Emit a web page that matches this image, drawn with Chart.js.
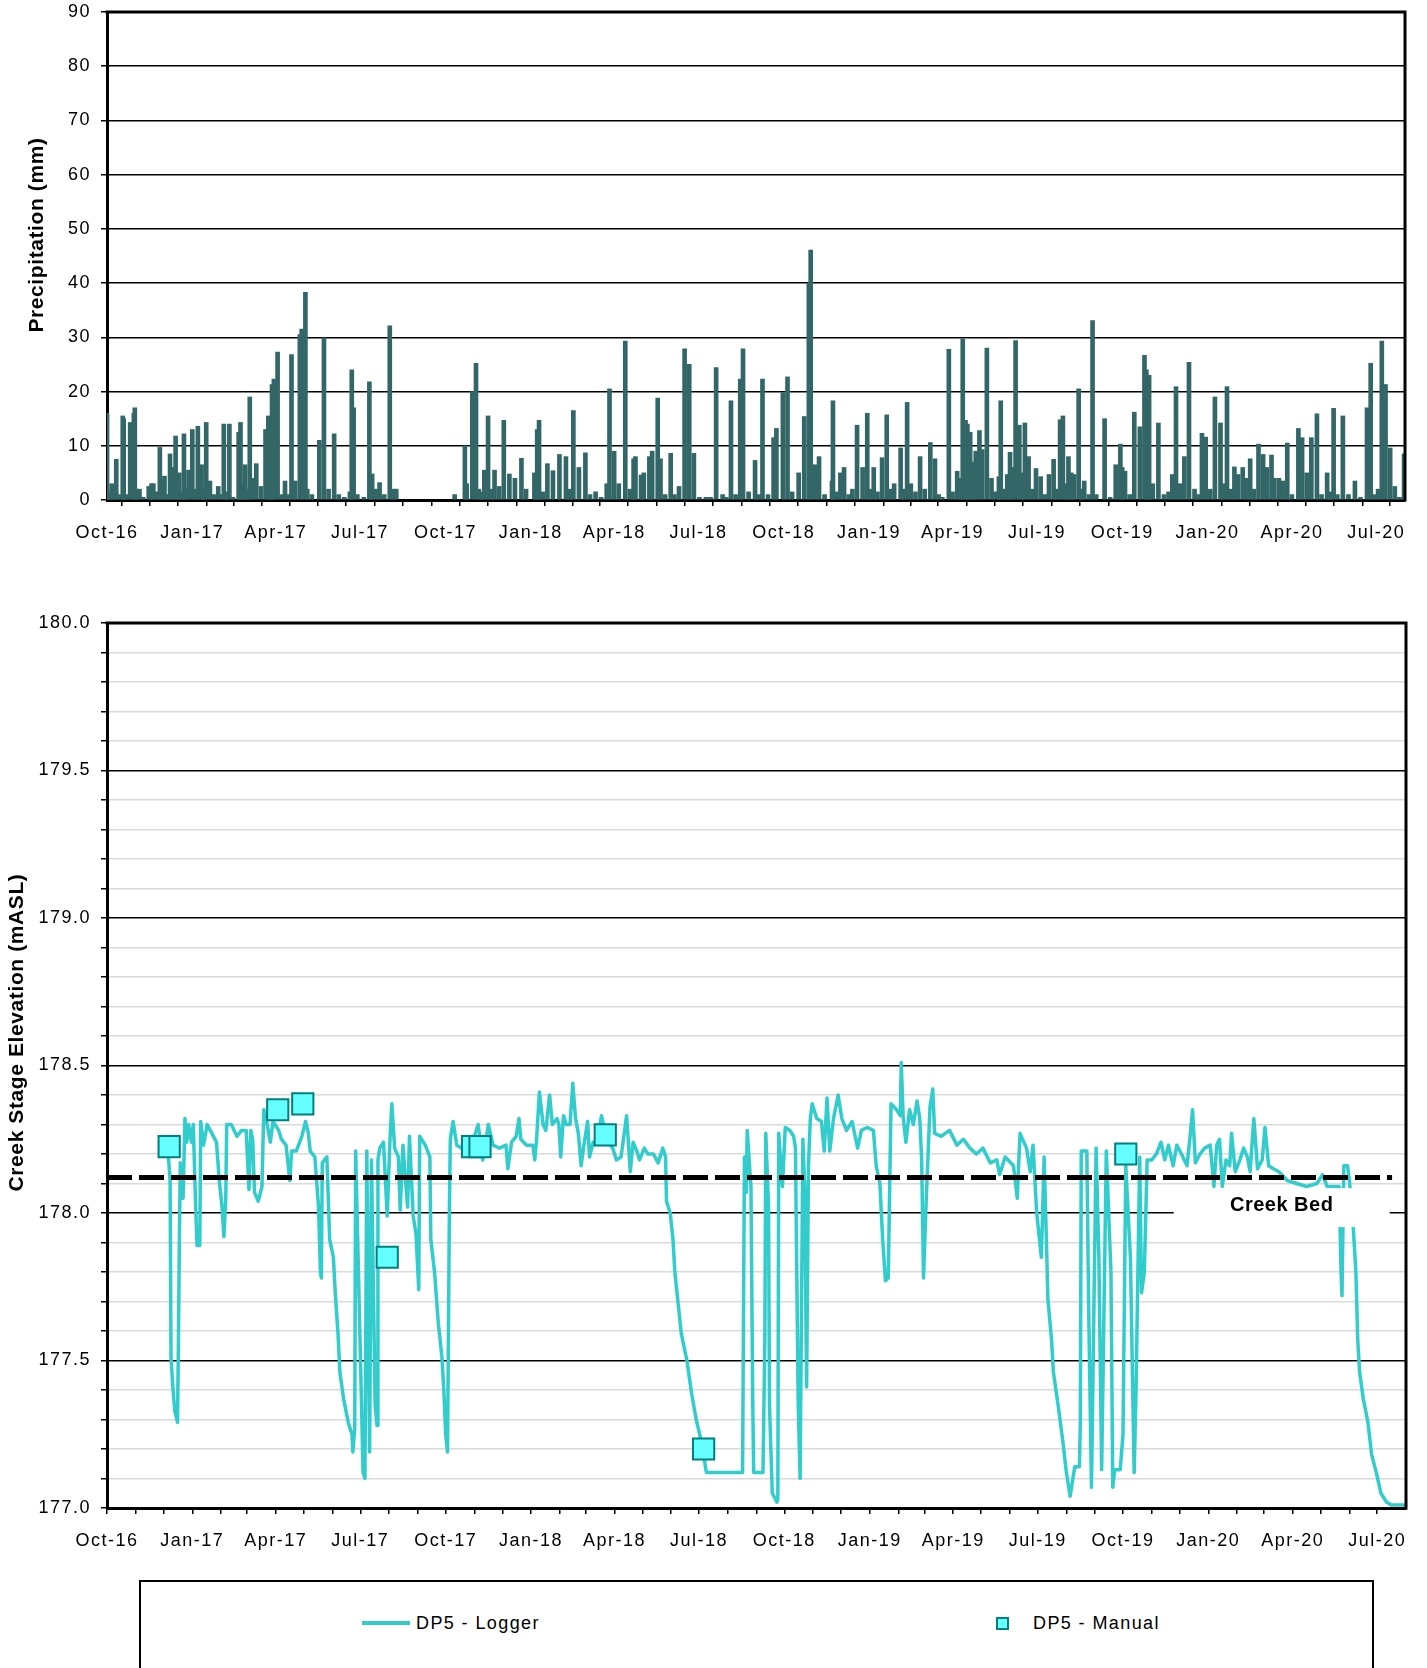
<!DOCTYPE html>
<html>
<head>
<meta charset="utf-8">
<script src="https://cdn.jsdelivr.net/npm/chart.js@4.4.1/dist/chart.umd.min.js"></script>
<style>
  html, body { margin:0; padding:0; background:#fff; }
  body { width:1427px; height:1668px; position:relative; overflow:hidden; font-family:'Liberation Sans', Arial, sans-serif; }
  #c1 { position:absolute; left:0; top:0; }
  #c2 { position:absolute; left:0; top:560px; }
  #legend { position:absolute; left:139px; top:1580px; width:1235px; height:120px; border:2px solid #000; box-sizing:border-box; background:#fff; }
  #legend .line { position:absolute; left:221px; top:39px; width:48px; height:4px; background:#33CCCC; }
  #legend .sq { position:absolute; left:855px; top:35px; width:9px; height:9px; background:#66FFFF; border:2px solid #008080; }
  #legend .txt { position:absolute; top:30px; font-size:18px; line-height:22px; letter-spacing:1.4px; color:#000; white-space:nowrap; }
</style>
</head>
<body>
<canvas id="c1" width="1427" height="560"></canvas>
<canvas id="c2" width="1427" height="1020"></canvas>
<div id="legend">
  <div class="line"></div><div class="txt" style="left:275px">DP5 - Logger</div>
  <div class="sq"></div><div class="txt" style="left:892px">DP5 - Manual</div>
</div>
<script>
// ---------------- DATA ----------------
const xMajorTickDates = ['2016-10-01','2017-01-01','2017-04-01','2017-07-01','2017-10-01','2018-01-01','2018-04-01','2018-07-01',
  '2018-10-01','2019-01-01','2019-04-01','2019-07-01','2019-10-01','2020-01-01','2020-04-01','2020-07-01'];
const xMajorTickLabels = ['Oct-16','Jan-17','Apr-17','Jul-17','Oct-17','Jan-18','Apr-18','Jul-18',
  'Oct-18','Jan-19','Apr-19','Jul-19','Oct-19','Jan-20','Apr-20','Jul-20'];
const xRange = ['2016-10-01', '2020-08-01'];

// Daily precipitation (mm) – days with rain
const precipEvents = [
['2016-10-01',16],['2016-10-03',1.5],['2016-10-06',3],['2016-10-08',2.5],['2016-10-11',7.5],['2016-10-14',1],['2016-10-18',15.5],['2016-10-19',15],
['2016-10-22',1],['2016-10-26',14.3],['2016-10-30',16],['2016-10-31',17],['2016-11-02',2],['2016-11-05',2],['2016-11-09',0.5],['2016-11-15',2.5],
['2016-11-18',3],['2016-11-20',3],['2016-11-24',1.5],['2016-11-27',9.7],['2016-11-29',3.5],['2016-12-02',4.4],['2016-12-05',1],['2016-12-08',8.5],
['2016-12-10',6],['2016-12-14',11.8],['2016-12-16',3],['2016-12-18',5],['2016-12-20',1.5],['2016-12-23',12.2],['2016-12-25',2],['2016-12-28',5.5],
['2017-01-01',13],['2017-01-04',2],['2017-01-07',13.6],['2017-01-11',6.5],['2017-01-13',2],['2017-01-16',14.3],['2017-01-20',3.5],['2017-01-24',1],
['2017-01-29',2.5],['2017-02-01',1],['2017-02-04',14],['2017-02-07',1.5],['2017-02-10',14],['2017-02-14',0.5],['2017-02-20',12.5],['2017-02-22',14.3],
['2017-02-24',3],['2017-02-27',6.5],['2017-03-01',2],['2017-03-04',19],['2017-03-07',4],['2017-03-11',6.7],['2017-03-16',2.5],['2017-03-21',13],
['2017-03-24',15.5],['2017-03-26',4],['2017-03-28',21.3],['2017-03-30',22.3],['2017-04-03',27.3],['2017-04-07',1],['2017-04-11',3.5],['2017-04-15',1],
['2017-04-18',26.8],['2017-04-22',3.5],['2017-04-27',30.5],['2017-04-29',31.5],['2017-05-03',38.3],['2017-05-05',2],['2017-05-10',1],['2017-05-18',11],
['2017-05-23',29.9],['2017-05-28',2],['2017-06-03',12.2],['2017-06-08',1],['2017-06-14',0.5],['2017-06-20',1.5],['2017-06-22',24],['2017-06-24',17],
['2017-06-28',1],['2017-07-05',0.5],['2017-07-11',21.8],['2017-07-14',4.8],['2017-07-18',2],['2017-07-22',3.2],['2017-07-27',1],['2017-08-02',32.1],
['2017-08-06',2],['2017-08-09',2],
['2017-10-11',1],['2017-10-22',10],['2017-10-24',3],['2017-10-30',20],['2017-11-03',25.2],['2017-11-06',2],['2017-11-09',1.5],['2017-11-12',5.5],
['2017-11-16',15.5],['2017-11-20',2],['2017-11-23',5.5],['2017-11-28',2.5],['2017-12-03',14.7],['2017-12-09',4.8],['2017-12-15',4],['2017-12-22',7.7],
['2017-12-27',2],['2018-01-05',5],['2018-01-08',13],['2018-01-10',14.7],['2018-01-14',1.5],['2018-01-19',6.7],['2018-01-25',5.4],['2018-02-01',8.4],
['2018-02-08',8],['2018-02-12',2],['2018-02-16',16.5],['2018-02-22',6],['2018-03-01',8.7],['2018-03-06',1],['2018-03-12',1.5],['2018-03-18',0.5],
['2018-03-24',3],['2018-03-27',20.5],['2018-04-01',9],['2018-04-06',3],['2018-04-13',29.3],['2018-04-18',2],['2018-04-22',7.6],['2018-04-24',8],
['2018-04-30',4.6],['2018-05-03',5],['2018-05-09',8],['2018-05-12',9],['2018-05-18',18.8],['2018-05-21',7.6],['2018-05-26',1],['2018-06-01',8.6],
['2018-06-05',1],['2018-06-10',2.5],['2018-06-16',27.9],['2018-06-21',25],['2018-06-26',8.6],['2018-07-02',0.5],['2018-07-09',0.5],['2018-07-14',0.5],
['2018-07-20',24.4],['2018-07-27',1],['2018-07-31',0.5],['2018-08-05',18.3],['2018-08-10',1],['2018-08-15',22.3],['2018-08-18',27.9],['2018-08-24',1.5],
['2018-08-31',7.3],['2018-09-04',1],['2018-09-08',22.3],['2018-09-14',1],['2018-09-20',11.5],['2018-09-23',13.2],['2018-09-30',19.8],['2018-10-05',22.7],
['2018-10-10',1.5],['2018-10-17',5],['2018-10-23',15.4],['2018-10-28',40],['2018-10-30',46.1],['2018-11-04',6.5],['2018-11-08',8],['2018-11-14',1],
['2018-11-22',3.5],['2018-11-23',18.3],['2018-11-27',1.5],['2018-12-01',5],['2018-12-05',6],['2018-12-10',1],['2018-12-14',2],['2018-12-19',13.8],
['2018-12-25',6],['2018-12-30',16],['2019-01-02',2],['2019-01-06',6],['2019-01-10',1.5],['2019-01-15',7.8],['2019-01-20',15.7],['2019-01-24',2],
['2019-01-28',3],['2019-02-04',9.6],['2019-02-07',2],['2019-02-11',18],['2019-02-15',3],['2019-02-20',1.5],['2019-02-25',8],['2019-03-02',2],
['2019-03-08',10.6],['2019-03-13',7.6],['2019-03-17',1],['2019-03-21',0.5],['2019-03-28',27.8],['2019-04-01',1.5],['2019-04-06',5.3],['2019-04-09',4],
['2019-04-12',29.7],['2019-04-15',14.7],['2019-04-17',14],['2019-04-20',12.5],['2019-04-23',7],['2019-04-26',9],['2019-04-30',12.8],['2019-05-03',9.3],
['2019-05-08',28],['2019-05-13',4],['2019-05-17',1.5],['2019-05-21',4.3],['2019-05-23',18.3],['2019-05-27',2],['2019-05-30',4.7],['2019-06-02',8.8],
['2019-06-05',6],['2019-06-08',29.4],['2019-06-12',13.8],['2019-06-15',5],['2019-06-18',14.2],['2019-06-22',8],['2019-06-26',2],['2019-06-30',5.8],
['2019-07-05',4.3],['2019-07-10',1],['2019-07-14',4.7],['2019-07-19',7.5],['2019-07-22',2],['2019-07-26',14.8],['2019-07-29',15.5],['2019-08-01',3],
['2019-08-04',8],['2019-08-07',5],['2019-08-10',4.7],['2019-08-15',20.5],['2019-08-18',2],['2019-08-21',3.5],['2019-08-26',1],['2019-08-30',33.1],
['2019-09-03',1],['2019-09-12',15],['2019-09-18',0.5],['2019-09-24',6.5],['2019-09-29',10.3],['2019-10-01',6],['2019-10-04',5.3],['2019-10-09',1],
['2019-10-14',16.2],['2019-10-20',13.5],['2019-10-25',26.7],['2019-10-27',24],['2019-10-30',23],['2019-11-03',3],['2019-11-09',14.2],['2019-11-15',1],
['2019-11-20',1.5],['2019-11-24',4.7],['2019-11-28',20.9],['2019-12-02',3],['2019-12-07',8],['2019-12-12',25.4],['2019-12-18',2],['2019-12-22',1],
['2019-12-26',12.3],['2019-12-30',11.6],['2020-01-04',2],['2020-01-09',19],['2020-01-15',14.2],['2020-01-18',3],['2020-01-22',20.9],['2020-01-26',2],
['2020-01-30',6.1],['2020-02-03',4.7],['2020-02-08',6],['2020-02-12',4],['2020-02-16',7.6],['2020-02-20',2],['2020-02-25',10.3],['2020-03-01',8.4],
['2020-03-05',6],['2020-03-10',8.3],['2020-03-13',4],['2020-03-18',4],['2020-03-22',3.5],['2020-03-27',10.5],['2020-04-01',1],['2020-04-08',13.2],
['2020-04-12',11.5],['2020-04-17',5],['2020-04-22',11.5],['2020-04-28',15.9],['2020-05-03',1],['2020-05-09',5],['2020-05-12',1.5],['2020-05-16',16.9],
['2020-05-20',1],['2020-05-26',15.5],['2020-06-01',1],['2020-06-08',3.5],['2020-06-14',0.5],['2020-06-21',17],['2020-06-25',25.2],['2020-06-29',1],
['2020-07-03',2],['2020-07-07',29.3],['2020-07-11',21.3],['2020-07-16',9.6],['2020-07-21',2.5],['2020-07-26',0.5],['2020-07-31',8.5]
];

// DP5 logger – creek stage elevation (mASL)
const loggerSeries = [
['2016-12-06',178.20],['2016-12-08',178.11],['2016-12-09',177.51],['2016-12-11',177.41],['2016-12-13',177.33],['2016-12-16',177.29],['2016-12-17',177.57],
['2016-12-18',177.91],['2016-12-19',178.17],['2016-12-20',178.05],['2016-12-22',178.05],['2016-12-24',178.32],['2016-12-26',178.24],['2016-12-28',178.30],
['2016-12-31',178.24],['2017-01-02',178.30],['2017-01-04',178.08],['2017-01-06',177.89],['2017-01-09',177.89],['2017-01-10',178.31],['2017-01-13',178.23],
['2017-01-17',178.30],['2017-01-22',178.27],['2017-01-27',178.24],['2017-01-30',178.11],['2017-02-02',178.02],['2017-02-04',177.92],['2017-02-06',178.05],
['2017-02-07',178.30],['2017-02-12',178.30],['2017-02-18',178.26],['2017-02-23',178.28],['2017-02-28',178.28],['2017-03-03',178.08],['2017-03-05',178.28],
['2017-03-07',178.25],['2017-03-09',178.07],['2017-03-13',178.04],['2017-03-17',178.09],['2017-03-19',178.35],['2017-03-21',178.33],['2017-03-26',178.24],
['2017-03-29',178.31],['2017-04-04',178.28],['2017-04-07',178.25],['2017-04-12',178.23],['2017-04-16',178.11],['2017-04-18',178.21],['2017-04-23',178.21],
['2017-04-29',178.26],['2017-05-03',178.31],['2017-05-06',178.27],['2017-05-08',178.21],['2017-05-13',178.19],['2017-05-17',178.02],['2017-05-19',177.80],
['2017-05-20',177.78],['2017-05-21',178.17],['2017-05-26',178.19],['2017-05-28',178.00],['2017-05-29',177.91],['2017-06-02',177.85],['2017-06-04',177.73],
['2017-06-07',177.59],['2017-06-09',177.46],['2017-06-13',177.37],['2017-06-18',177.29],['2017-06-22',177.25],['2017-06-23',177.19],['2017-06-25',177.27],
['2017-06-26',178.21],['2017-06-29',177.80],['2017-07-04',177.12],['2017-07-06',177.10],['2017-07-08',178.21],['2017-07-11',177.19],['2017-07-13',178.18],
['2017-07-17',177.35],['2017-07-19',177.28],['2017-07-20',178.18],['2017-07-22',178.22],['2017-07-26',178.24],['2017-07-30',177.99],['2017-08-02',178.25],
['2017-08-04',178.37],['2017-08-07',178.22],['2017-08-11',178.19],['2017-08-13',178.01],['2017-08-16',178.23],['2017-08-18',178.14],['2017-08-21',178.02],
['2017-08-23',178.26],['2017-08-27',177.99],['2017-08-30',177.93],['2017-09-02',177.74],['2017-09-03',178.26],['2017-09-09',178.23],['2017-09-14',178.19],
['2017-09-15',177.91],['2017-09-19',177.80],['2017-09-23',177.63],['2017-09-27',177.51],['2017-09-29',177.40],['2017-10-01',177.25],['2017-10-03',177.19],
['2017-10-05',178.01],['2017-10-06',178.25],['2017-10-09',178.31],['2017-10-13',178.23],['2017-10-18',178.22],['2017-10-24',178.22],['2017-10-31',178.25],
['2017-11-05',178.30],['2017-11-10',178.18],['2017-11-16',178.30],['2017-11-21',178.23],['2017-11-28',178.22],['2017-12-05',178.23],['2017-12-07',178.15],
['2017-12-11',178.24],['2017-12-16',178.26],['2017-12-19',178.32],['2017-12-21',178.25],['2017-12-27',178.23],['2018-01-03',178.23],['2018-01-05',178.18],
['2018-01-07',178.25],['2018-01-10',178.41],['2018-01-14',178.30],['2018-01-17',178.28],['2018-01-21',178.40],['2018-01-24',178.30],['2018-01-29',178.32],
['2018-01-31',178.30],['2018-02-02',178.19],['2018-02-05',178.33],['2018-02-08',178.30],['2018-02-12',178.30],['2018-02-15',178.44],['2018-02-18',178.32],
['2018-02-21',178.27],['2018-02-24',178.16],['2018-02-27',178.23],['2018-03-03',178.31],['2018-03-05',178.19],['2018-03-09',178.24],['2018-03-13',178.24],
['2018-03-18',178.33],['2018-03-23',178.25],['2018-03-30',178.22],['2018-04-03',178.18],['2018-04-08',178.19],['2018-04-14',178.33],['2018-04-18',178.14],
['2018-04-21',178.24],['2018-04-25',178.21],['2018-04-28',178.18],['2018-05-03',178.22],['2018-05-07',178.20],['2018-05-13',178.20],['2018-05-18',178.17],
['2018-05-23',178.22],['2018-05-26',178.19],['2018-05-27',178.04],['2018-05-31',178.00],['2018-06-03',177.91],['2018-06-05',177.80],['2018-06-09',177.68],
['2018-06-12',177.59],['2018-06-18',177.50],['2018-06-23',177.39],['2018-06-28',177.30],['2018-07-04',177.22],['2018-07-09',177.12],['2018-07-24',177.12],
['2018-08-07',177.12],['2018-08-17',177.12],['2018-08-19',178.19],['2018-08-21',178.07],['2018-08-22',178.28],['2018-08-26',178.09],['2018-08-28',177.35],
['2018-08-29',177.12],['2018-09-08',177.12],['2018-09-10',177.57],['2018-09-11',178.27],['2018-09-14',178.02],['2018-09-15',177.35],['2018-09-18',177.05],
['2018-09-23',177.02],['2018-09-24',177.03],['2018-09-25',178.27],['2018-09-29',178.09],['2018-10-02',178.29],['2018-10-07',178.28],['2018-10-11',178.26],
['2018-10-13',178.22],['2018-10-14',177.91],['2018-10-16',177.35],['2018-10-18',177.10],['2018-10-21',178.25],['2018-10-23',178.08],['2018-10-25',177.41],
['2018-10-27',178.16],['2018-10-29',178.32],['2018-10-31',178.37],['2018-11-05',178.32],['2018-11-10',178.31],['2018-11-13',178.21],['2018-11-16',178.39],
['2018-11-19',178.21],['2018-11-23',178.32],['2018-11-28',178.40],['2018-12-02',178.32],['2018-12-07',178.28],['2018-12-13',178.31],['2018-12-19',178.22],
['2018-12-23',178.28],['2018-12-29',178.29],['2019-01-05',178.28],['2019-01-08',178.16],['2019-01-12',178.10],['2019-01-15',177.91],['2019-01-18',177.77],
['2019-01-21',177.78],['2019-01-23',178.18],['2019-01-24',178.37],['2019-01-30',178.35],['2019-02-03',178.33],['2019-02-04',178.51],['2019-02-06',178.33],
['2019-02-09',178.24],['2019-02-13',178.35],['2019-02-17',178.30],['2019-02-21',178.38],['2019-02-24',178.32],['2019-02-26',178.18],['2019-02-28',177.78],
['2019-03-03',178.05],['2019-03-07',178.36],['2019-03-10',178.42],['2019-03-12',178.27],['2019-03-19',178.26],['2019-03-28',178.28],['2019-04-05',178.23],
['2019-04-12',178.25],['2019-04-19',178.22],['2019-04-26',178.20],['2019-05-03',178.22],['2019-05-11',178.17],['2019-05-18',178.18],['2019-05-21',178.13],
['2019-05-27',178.19],['2019-06-05',178.16],['2019-06-09',178.05],['2019-06-12',178.27],['2019-06-19',178.22],['2019-06-23',178.14],['2019-06-26',178.23],
['2019-06-30',178.00],['2019-07-03',177.91],['2019-07-05',177.85],['2019-07-08',178.19],['2019-07-11',177.84],['2019-07-12',177.71],['2019-07-16',177.57],
['2019-07-18',177.46],['2019-07-23',177.35],['2019-07-28',177.23],['2019-08-01',177.12],['2019-08-05',177.04],['2019-08-10',177.14],['2019-08-15',177.14],
['2019-08-16',177.29],['2019-08-17',178.21],['2019-08-23',178.21],['2019-08-25',177.68],['2019-08-28',177.07],['2019-09-02',178.22],['2019-09-05',177.85],
['2019-09-08',177.13],['2019-09-13',178.21],['2019-09-18',177.80],['2019-09-20',177.07],['2019-09-22',177.13],['2019-09-28',177.13],['2019-10-01',177.25],
['2019-10-04',178.16],['2019-10-09',177.85],['2019-10-13',177.12],['2019-10-15',177.39],['2019-10-19',178.19],['2019-10-21',177.73],['2019-10-24',177.80],
['2019-10-27',178.18],['2019-11-01',178.18],['2019-11-06',178.20],['2019-11-11',178.24],['2019-11-15',178.18],['2019-11-19',178.23],['2019-11-24',178.16],
['2019-11-28',178.23],['2019-12-03',178.20],['2019-12-09',178.16],['2019-12-12',178.25],['2019-12-15',178.35],['2019-12-18',178.17],['2019-12-23',178.20],
['2019-12-28',178.22],['2020-01-03',178.23],['2020-01-07',178.09],['2020-01-10',178.23],['2020-01-13',178.25],['2020-01-16',178.09],['2020-01-20',178.18],
['2020-01-24',178.16],['2020-01-26',178.27],['2020-01-30',178.14],['2020-02-04',178.18],['2020-02-08',178.22],['2020-02-12',178.19],['2020-02-15',178.14],
['2020-02-19',178.32],['2020-02-23',178.15],['2020-02-28',178.18],['2020-03-02',178.29],['2020-03-06',178.16],['2020-03-11',178.15],['2020-03-17',178.14],
['2020-03-26',178.11],['2020-04-05',178.10],['2020-04-16',178.09],['2020-04-27',178.10],['2020-05-03',178.13],['2020-05-08',178.09],['2020-05-21',178.09],
['2020-05-23',177.80],['2020-05-24',177.72],['2020-05-26',178.16],['2020-05-30',178.16],['2020-06-01',178.11],['2020-06-05',177.96],['2020-06-08',177.80],
['2020-06-10',177.57],['2020-06-12',177.46],['2020-06-16',177.37],['2020-06-21',177.29],['2020-06-25',177.18],['2020-06-30',177.12],['2020-07-05',177.05],
['2020-07-11',177.02],['2020-07-16',177.01],['2020-07-31',177.01]
];

// DP5 manual measurements (mASL)
const manualDates  = ['2016-12-07','2017-04-03','2017-04-30','2017-07-30','2017-10-30','2017-11-07','2018-03-22','2018-07-06','2019-10-04'];
const manualValues = [178.225, 178.35, 178.37, 177.85, 178.225, 178.225, 178.265, 177.20, 178.20];

// Creek bed reference elevation
const creekBedLevel = 178.12;
const creekBedSpan  = ['2016-10-01', '2020-07-17'];
const creekBedLabel = 'Creek Bed';
const creekBedLabelAt = ['2020-03-20', 178.02];

// ---------------- HELPERS ----------------
const toMs = s => { const [y, m, d] = s.split('-').map(Number); return Date.UTC(y, m - 1, d); };
const X_MIN = toMs(xRange[0]), X_MAX = toMs(xRange[1]);
const majorMs = xMajorTickDates.map(toMs);
const monthTicks = [];
for (let y = 2016, m = 9; Date.UTC(y, m, 1) < X_MAX; m++) {
  if (m > 11) { m = 0; y++; }
  monthTicks.push(Date.UTC(y, m, 1));
}
const FONT = "'Liberation Sans', Arial, sans-serif";
const tickFont = { family: FONT, size: 18 };

const spacing = {
  id: 'spacing',
  beforeUpdate(c) { c.ctx.letterSpacing = '1.5px'; },
  beforeDraw(c) { c.ctx.letterSpacing = '1.5px'; }
};
const frame = {
  id: 'frame',
  afterDraw(c) {
    const { ctx, chartArea: a } = c;
    ctx.save();
    ctx.strokeStyle = '#000'; ctx.lineWidth = 3;
    ctx.beginPath(); ctx.moveTo(a.left - 1.5, a.top); ctx.lineTo(a.right, a.top); ctx.lineTo(a.right, a.bottom + 1.5); ctx.stroke();
    ctx.restore();
  }
};
const ytitle = {
  id: 'ytitle',
  afterDraw(c, args, o) {
    const { ctx, chartArea: a } = c;
    ctx.save();
    ctx.letterSpacing = o.spacing + 'px';
    ctx.font = `bold ${o.size}px ${FONT}`;
    ctx.fillStyle = '#000'; ctx.textAlign = 'center'; ctx.textBaseline = 'middle';
    ctx.translate(o.x, (a.top + a.bottom) / 2 + o.dy);
    ctx.rotate(-Math.PI / 2);
    ctx.fillText(o.text, 0, 0);
    ctx.restore();
  }
};
const bedLabel = {
  id: 'bedLabel',
  afterDatasetsDraw(c, args, o) {
    if (!o.text) return;
    const { ctx } = c;
    const x = c.scales.x.getPixelForValue(toMs(o.at[0]));
    const y = c.scales.y.getPixelForValue(o.at[1]);
    ctx.save();
    ctx.fillStyle = '#fff';
    ctx.fillRect(x - 108, y - 19, 216, 39);
    ctx.letterSpacing = '0.5px';
    ctx.font = `bold 20px ${FONT}`;
    ctx.fillStyle = '#000'; ctx.textAlign = 'center'; ctx.textBaseline = 'middle';
    ctx.fillText(o.text, x, y - 2);
    ctx.restore();
  }
};

function xScale(axisH) {
  return {
    type: 'linear', min: X_MIN, max: X_MAX, offset: false,
    afterBuildTicks: s => { s.ticks = monthTicks.map(v => ({ value: v })); },
    afterFit: s => { s.height = axisH; },
    ticks: {
      autoSkip: false, maxRotation: 0, minRotation: 0, padding: 16, color: '#000', font: tickFont,
      callback: v => { const i = majorMs.indexOf(v); return i >= 0 ? xMajorTickLabels[i] : ''; }
    },
    grid: { display: true, drawOnChartArea: false, drawTicks: true, tickLength: 6, color: '#000', lineWidth: 1.5 },
    border: { display: true, color: '#000', width: 3 }
  };
}
const fitY = s => { s.width = 107; s.paddingTop = 0; s.paddingBottom = 0; };

Chart.defaults.font.family = FONT;

// ---------------- TOP: precipitation ----------------
new Chart(document.getElementById('c1'), {
  type: 'bar',
  data: {
    datasets: [{
      label: 'Precipitation',
      data: precipEvents.map(([d, v]) => ({ x: toMs(d), y: v })),
      backgroundColor: '#336666', borderWidth: 0, barThickness: 4, grouped: false
    }]
  },
  options: {
    responsive: false, animation: false, events: [],
    layout: { padding: { top: 12, right: 22, left: 0, bottom: 0 } },
    plugins: {
      legend: { display: false }, tooltip: { enabled: false },
      ytitle: { text: 'Precipitation (mm)', x: 37, dy: -21, size: 21, spacing: 0.6 }
    },
    scales: {
      x: xScale(60),
      y: {
        min: 0, max: 90,
        afterFit: fitY,
        ticks: { stepSize: 10, padding: 10, color: '#000', font: tickFont },
        grid: { color: '#000', lineWidth: 1.5, tickLength: 6, tickColor: '#000' },
        border: { display: true, color: '#000', width: 3 }
      }
    }
  },
  plugins: [spacing, frame, ytitle]
});

// ---------------- BOTTOM: creek stage ----------------
const isMajorY = v => Math.abs(Math.round(v * 2) - v * 2) < 1e-6;
new Chart(document.getElementById('c2'), {
  type: 'line',
  data: {
    datasets: [
      {
        label: 'DP5 - Manual', order: 0, showLine: false,
        data: manualDates.map((d, i) => ({ x: toMs(d), y: manualValues[i] })),
        pointStyle: 'rect', pointRadius: 15, pointBackgroundColor: '#66FFFF', pointBorderColor: '#008080', pointBorderWidth: 2
      },
      {
        label: 'Creek Bed', order: 1,
        data: creekBedSpan.map(d => ({ x: toMs(d), y: creekBedLevel })),
        borderColor: '#000', borderWidth: 5, borderDash: [25, 7], pointRadius: 0, borderCapStyle: 'butt'
      },
      {
        label: 'DP5 - Logger', order: 2,
        data: loggerSeries.map(([d, v]) => ({ x: toMs(d), y: v })),
        borderColor: '#33CCCC', borderWidth: 3.5, pointRadius: 0, tension: 0, borderJoinStyle: 'round'
      }
    ]
  },
  options: {
    responsive: false, animation: false, events: [],
    layout: { padding: { top: 63, right: 21, left: 0, bottom: 0 } },
    plugins: {
      legend: { display: false }, tooltip: { enabled: false },
      ytitle: { text: 'Creek Stage Elevation (mASL)', x: 17, dy: -33, size: 21, spacing: 0.6 },
      bedLabel: { text: creekBedLabel, at: creekBedLabelAt }
    },
    scales: {
      x: xScale(72),
      y: {
        min: 177, max: 180,
        afterFit: fitY,
        ticks: {
          stepSize: 0.1, autoSkip: false, padding: 10, color: '#000', font: tickFont,
          callback: v => isMajorY(v) ? Number(v).toFixed(1) : ''
        },
        grid: {
          color: c => isMajorY(c.tick.value) ? '#000' : '#DADADA',
          lineWidth: 1.5, tickLength: 6, tickColor: '#000', tickWidth: 1.5
        },
        border: { display: true, color: '#000', width: 3 }
      }
    }
  },
  plugins: [spacing, frame, ytitle, bedLabel]
});
</script>
</body>
</html>
